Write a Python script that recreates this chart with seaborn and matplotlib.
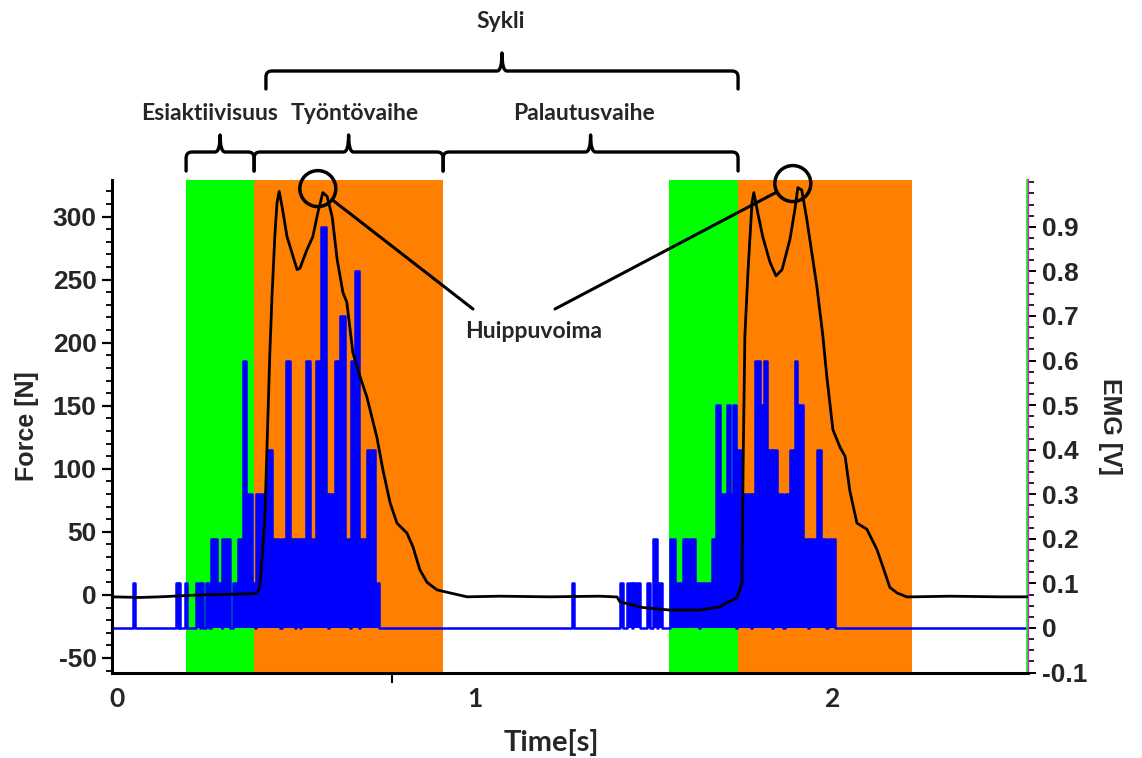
import numpy as np
import pandas as pd
import matplotlib
matplotlib.use("Agg")
import matplotlib.pyplot as plt
import seaborn as sns
from matplotlib.path import Path
from matplotlib.patches import PathPatch, Circle
from matplotlib.transforms import IdentityTransform
from matplotlib.ticker import FixedLocator, MultipleLocator

# ---------------- data ----------------
force_t = [-0.014, 0.064, 0.120, 0.232, 0.316, 0.385, 0.391, 0.399, 0.413, 0.419,
           0.427, 0.433, 0.441, 0.447, 0.453, 0.461, 0.475, 0.489, 0.503, 0.511,
           0.531, 0.547, 0.561, 0.575, 0.587, 0.601, 0.615, 0.631, 0.642, 0.659,
           0.679, 0.698, 0.726, 0.743, 0.763, 0.782, 0.810, 0.827, 0.846, 0.866,
           0.894, 0.930, 0.978, 1.070, 1.209, 1.349, 1.397, 1.405, 1.469, 1.545,
           1.628, 1.684, 1.704, 1.732, 1.746, 1.749, 1.754, 1.763, 1.774, 1.779,
           1.790, 1.804, 1.824, 1.841, 1.858, 1.880, 1.894, 1.902, 1.913, 1.927,
           1.955, 1.972, 1.983, 2.000, 2.020, 2.034, 2.047, 2.067, 2.095, 2.123,
           2.140, 2.159, 2.179, 2.207, 2.327, 2.466, 2.545]
force_n = [-1.5, -2, -1.5, 0, 0.5, 1, 1.6, 6, 60, 117,
           192, 237, 285, 311, 320, 308, 284, 271, 258, 259,
           274, 284, 303, 319, 316, 300, 266, 240, 232, 192,
           173, 157, 125, 99, 73, 57, 49, 38, 20, 10,
           4, 1.6, -1.5, -1, -1.5, -1, -1.6, -5.5, -10, -12,
           -12, -9.5, -6, -2.4, 9.5, 99, 205, 258, 311, 319,
           303, 284, 264, 253, 258, 282, 306, 323, 321, 298,
           245, 205, 173, 131, 117, 110, 83, 57, 52, 36,
           22, 6, 1.6, -1.6, -1, -1.5, -1.5]

# EMG as a step signal: value holds from each breakpoint to the next
emg_t = [-0.014, 0.046, 0.050, 0.165, 0.170, 0.173, 0.177, 0.191, 0.196, 0.221,
         0.233, 0.236, 0.240, 0.249, 0.258, 0.263, 0.279, 0.292, 0.293, 0.316,
         0.324, 0.337, 0.353, 0.360, 0.376, 0.386, 0.388, 0.419, 0.433, 0.454,
         0.460, 0.472, 0.483, 0.496, 0.499, 0.511, 0.514, 0.529, 0.538, 0.549,
         0.557, 0.571, 0.584, 0.589, 0.592, 0.609, 0.619, 0.624, 0.637, 0.651,
         0.655, 0.665, 0.675, 0.679, 0.697, 0.721, 0.733,
         1.272, 1.278, 1.405, 1.413, 1.426, 1.438, 1.441, 1.461, 1.480, 1.489,
         1.497, 1.508, 1.511, 1.522, 1.545, 1.559, 1.581, 1.615, 1.627, 1.630,
         1.662, 1.672, 1.684, 1.703, 1.712, 1.721, 1.729, 1.733, 1.746, 1.771,
         1.775, 1.782, 1.795, 1.807, 1.816, 1.830, 1.834, 1.844, 1.860, 1.865,
         1.880, 1.894, 1.901, 1.916, 1.930, 1.934, 1.955, 1.967, 1.980, 1.985,
         2.006, 2.545]
emg_v = [0, 0.1, 0, 0.1, 0, 0.1, 0, 0.1, 0, 0.1,
         0, 0.1, 0, 0.1, 0, 0.2, 0.1, 0, 0.2, 0,
         0.1, 0.2, 0.6, 0.3, 0.1, 0, 0.3, 0.4, 0.2, 0,
         0.2, 0.6, 0.2, 0, 0.2, 0, 0.2, 0.6, 0.2, 0.1,
         0.6, 0.9, 0.3, 0, 0.3, 0.6, 0.3, 0.7, 0.2, 0,
         0.6, 0.8, 0, 0.2, 0.4, 0.1, 0,
         0.1, 0, 0.1, 0, 0.1, 0, 0.1, 0, 0.1, 0,
         0.2, 0, 0.1, 0, 0.2, 0.1, 0.2, 0.1, 0, 0.1,
         0.2, 0.5, 0.3, 0.5, 0.3, 0.5, 0, 0.4, 0.3, 0,
         0.3, 0.6, 0.5, 0.6, 0.4, 0, 0.4, 0.3, 0, 0.3,
         0.4, 0.6, 0.5, 0.2, 0, 0.2, 0.4, 0.2, 0, 0.2,
         0, 0]

# phases (s)
preact_start = [0.193, 1.542]     # green: Esiaktiivisuus
push_start = [0.383, 1.735]       # orange: Työntövaihe
push_end = [0.911, 2.221]
cycle_start = 0.416
peak_times = [0.575, 1.902]

x_tick_vals = [0, 1, 2]
x_tick_labels = ["0", "1", "2"]
force_ticks = [-50, 0, 50, 100, 150, 200, 250, 300]
emg_ticks = [-0.1, 0, 0.1, 0.2, 0.3, 0.4, 0.5, 0.6, 0.7, 0.8, 0.9]
emg_tick_labels = ["-0.1", "0", "0.1", "0.2", "0.3", "0.4", "0.5", "0.6", "0.7", "0.8", "0.9"]
phase_labels = ["Esiaktiivisuus", "Työntövaihe", "Palautusvaihe"]
cycle_label = "Sykli"
peak_label = "Huippuvoima"

# ---------------- style ----------------
sns.set_style("ticks")
plt.rcParams["font.family"] = ["Liberation Sans", "DejaVu Sans"]
plt.rcParams["axes.unicode_minus"] = False

ARIAL = "Liberation Sans"
CALIBRI = "Lato"

W, H = 1142, 758
fig = plt.figure(figsize=(W / 100, H / 100), dpi=100)
ax = fig.add_axes([112 / W, 1 - 673 / H, (1028 - 112) / W, (673 - 180) / H])
ax2 = ax.twinx()

GREEN = "#00FF00"
ORANGE = "#FF8000"
BLUE = "#0000FF"

# shaded phases on the lower axes
for g0, o0, o1 in zip(preact_start, push_start, push_end):
    ax2.axvspan(g0, o0, color=GREEN, lw=0, zorder=0)
    ax2.axvspan(o0, o1, color=ORANGE, lw=0, zorder=0)

# EMG
emg_df = pd.DataFrame({"t": emg_t, "v": emg_v})
ax2.fill_between(emg_df["t"], emg_df["v"], step="post", color=BLUE, lw=0, zorder=2)
sns.lineplot(data=emg_df, x="t", y="v", ax=ax2, color=BLUE, lw=1.8,
             drawstyle="steps-post", zorder=3, sort=False)

# Force
force_df = pd.DataFrame({"t": force_t, "F": force_n})
sns.lineplot(data=force_df, x="t", y="F", ax=ax, color="black", lw=2, zorder=4, sort=False)

ax.set_zorder(ax2.get_zorder() + 1)
ax.patch.set_visible(False)

# axes limits / ticks
ax.set_xlim(-0.014, 2.545)
ax.set_ylim(-61.9, 329)
ax2.set_ylim(-0.101, 1.005)

ax.set_xticks(x_tick_vals)
ax.set_xticklabels(x_tick_labels, fontfamily=CALIBRI, fontweight="bold", fontsize=19)
ax.tick_params(axis="x", which="major", length=0, pad=10)
ax.xaxis.set_minor_locator(FixedLocator([0.768]))
ax.tick_params(axis="x", which="minor", length=7, width=1.5, color="black")

ax.set_yticks(force_ticks)
ax.set_yticklabels([str(v) for v in force_ticks], fontfamily=ARIAL,
                   fontweight="bold", fontsize=19)
ax.yaxis.set_minor_locator(MultipleLocator(10))
ax.tick_params(axis="y", which="major", length=7, width=1.6, color="black", pad=4)
ax.tick_params(axis="y", which="minor", length=4, width=1.3, color="black")

ax2.set_yticks(emg_ticks)
ax2.set_yticklabels(emg_tick_labels, fontfamily=ARIAL, fontweight="bold", fontsize=19)
ax2.yaxis.set_minor_locator(MultipleLocator(0.025))
ax2.tick_params(axis="y", which="major", length=6, width=1.4, color="black", pad=4)
ax2.tick_params(axis="y", which="minor", length=4, width=1.2, color="black")

for s in ["top", "right"]:
    ax.spines[s].set_visible(False)
for s in ["top", "left", "bottom"]:
    ax2.spines[s].set_visible(False)
ax.spines["left"].set_linewidth(2.2)
ax.spines["bottom"].set_linewidth(2.2)
ax.spines["left"].set_color("black")
ax.spines["bottom"].set_color("black")
ax2.spines["right"].set_color("#FF00FF")
ax2.spines["right"].set_linewidth(1.5)
ax2.plot([0.9985, 0.9985], [0, 1], transform=ax2.transAxes, color=GREEN, lw=1.2,
         clip_on=False, zorder=5)

ax.set_xlabel("")
ax.set_ylabel("")
ax2.set_ylabel("")

# axis titles
fig.text(27 / W, 1 - 426 / H, "Force [N]", rotation=90, ha="center", va="center",
         fontsize=18, fontweight="bold", fontfamily=ARIAL)
fig.text(1110 / W, 1 - 426 / H, "EMG [V]", rotation=-90, ha="center", va="center",
         fontsize=18, fontweight="bold", fontfamily=ARIAL)
fig.text(551 / W, 1 - 742 / H, "Time[s]", ha="center", va="center",
         fontsize=21, fontweight="bold", fontfamily=CALIBRI)

# ---------------- annotations ----------------
def xpix(t):
    return ax.transData.transform((t, 0))[0]


def brace(x0, x1, y_line, y_end, y_tip, r=6, rt=5):
    xm = (x0 + x1) / 2
    yl, ye, yt = H - y_line, H - y_end, H - y_tip
    verts = [(x0, ye), (x0, yl - r), (x0, yl), (x0 + r, yl),
             (xm - rt, yl), (xm, yl), (xm, yt), (xm, yl), (xm + rt, yl),
             (x1 - r, yl), (x1, yl), (x1, yl - r), (x1, ye)]
    codes = [Path.MOVETO, Path.LINETO, Path.CURVE3, Path.CURVE3,
             Path.LINETO, Path.CURVE3, Path.CURVE3, Path.CURVE3, Path.CURVE3,
             Path.LINETO, Path.CURVE3, Path.CURVE3, Path.LINETO]
    fig.add_artist(PathPatch(Path(verts, codes), transform=IdentityTransform(),
                             fill=False, lw=2.4, ec="black", capstyle="round",
                             joinstyle="round"))


bounds = [(preact_start[0], push_start[0]), (push_start[0], push_end[0]),
          (push_end[0], push_start[1])]
for (a, b) in bounds:
    brace(xpix(a), xpix(b), 152, 171, 135)
brace(xpix(cycle_start), xpix(push_start[1]), 71, 89, 53)

label_font = dict(fontfamily=CALIBRI, fontweight="bold", fontsize=16.5, ha="center", va="center")
label_x = [210, 355, 584]
for lab, lx in zip(phase_labels, label_x):
    fig.text(lx / W, 1 - 113 / H, lab, **label_font)
fig.text(501 / W, 1 - 22 / H, cycle_label, **label_font)
fig.text(534 / W, 1 - 332 / H, peak_label, **label_font)

# circles around the force peaks and lines to the label
peak_F = np.interp(peak_times, force_t, force_n)
line_starts = [(473, 309), (555, 309)]
for pt, pf, (lx, ly) in zip(peak_times, peak_F, line_starts):
    cx, cy = ax.transData.transform((pt, pf))
    cx, cy = cx - 5, cy + 4
    fig.add_artist(Circle((cx, cy), 18, transform=IdentityTransform(),
                          fill=False, lw=2.5, ec="black"))
    ax.annotate("", xy=(cx, cy), xycoords="figure pixels",
                xytext=(lx, H - ly), textcoords="figure pixels",
                arrowprops=dict(arrowstyle="-", lw=2.2, color="black",
                                shrinkA=0, shrinkB=13))

fig.savefig("out.png", dpi=100)
